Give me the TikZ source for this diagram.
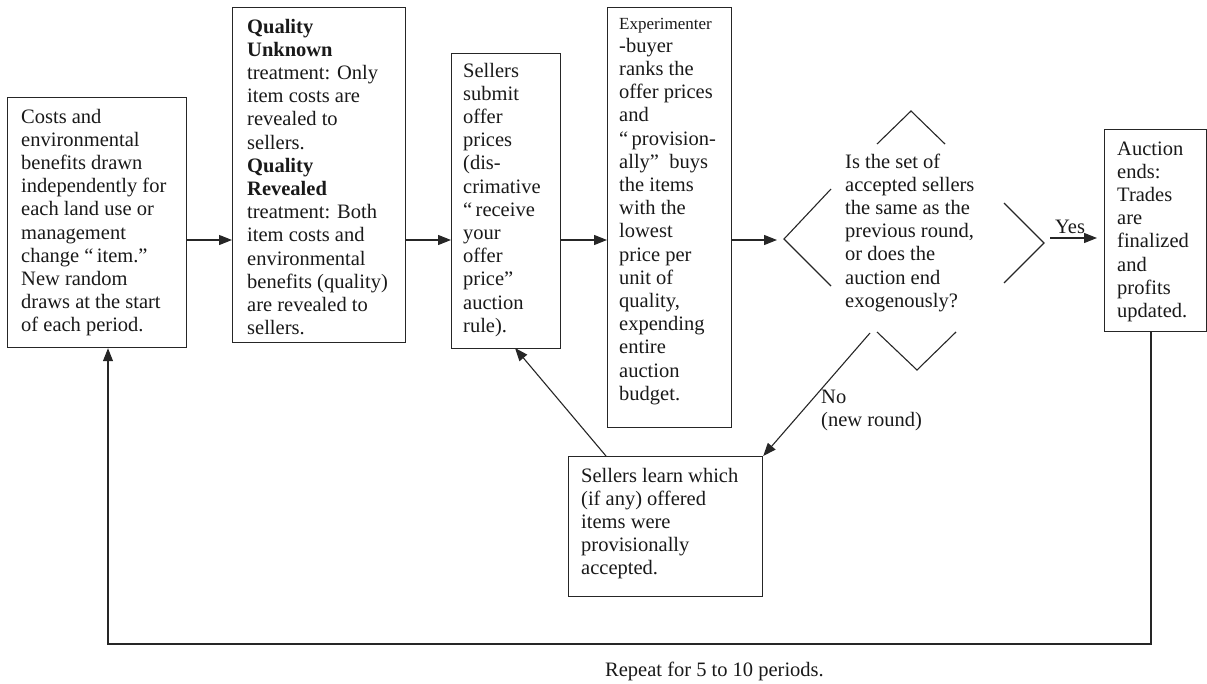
\documentclass[tikz,border=0pt]{standalone}
\usepackage{fontspec}
\setmainfont{Liberation Serif}
\usetikzlibrary{arrows.meta}
\tikzset{
  box/.style={draw=black!85, line width=1.2pt, rectangle, inner sep=0pt, anchor=north west},
  txt/.style={anchor=base west, inner sep=0pt, text=black!90, font=\fontsize{20.5}{23.2}\selectfont},
  arr/.style={line width=1.1pt, draw=black!85, -{Triangle[length=13pt,width=10pt]}},
  ln/.style={line width=1.1pt, draw=black!85},
}
\newcommand{\tl}[1]{\begin{tabular}[t]{@{}l@{}}#1\end{tabular}}
\begin{document}
\begin{tikzpicture}[x=1pt,y=-1pt]
\useasboundingbox (0,0) rectangle (1207,683);
% boxes
\node[box, minimum width=179pt, minimum height=250pt] (b1) at (7,97) {};
\node[box, minimum width=173pt, minimum height=335pt] (b2) at (232,7) {};
\node[box, minimum width=109pt, minimum height=295pt] (b3) at (451,53) {};
\node[box, minimum width=124pt, minimum height=420pt] (b4) at (607,7) {};
\node[box, minimum width=102pt, minimum height=202pt] (b5) at (1104,129) {};
\node[box, minimum width=194pt, minimum height=140pt] (b6) at (568,456) {};
% texts
\node[txt] (t1) at (21,123) {\tl{Costs and\\environmental\\benefits drawn\\independently for\\each land use or\\management\\change “\,item.”\\New random\\draws at the start\\of each period.}};
\node[txt] (t2) at (247,33) {\tl{\textbf{Quality}\\\textbf{Unknown}\\treatment: Only\\item costs are\\revealed to\\sellers.\\\textbf{Quality}\\\textbf{Revealed}\\treatment: Both\\item costs and\\environmental\\benefits (quality)\\are revealed to\\sellers.}};
\node[txt] (t3) at (463,77) {\tl{Sellers\\submit\\offer\\prices\\(dis-\\crimative\\“\,receive\\your\\offer\\price”\\auction\\rule).}};
\node[txt] (t4) at (619,29) {\tl{{\fontsize{17}{20}\selectfont Experimenter}\\-buyer\\ranks the\\offer prices\\and\\“\,provision-\\ally”\ \ buys\\the items\\with the\\lowest\\price per\\unit of\\quality,\\expending\\entire\\auction\\budget.}};
\node[txt] (td) at (845,168) {\tl{Is the set of\\accepted sellers\\the same as the\\previous round,\\or does the\\auction end\\exogenously?}};
\node[txt] (t5) at (1117,155) {\tl{Auction\\ends:\\Trades\\are\\finalized\\and\\profits\\updated.}};
\node[txt] (t6) at (581,482) {\tl{Sellers learn which\\(if any) offered\\items were\\provisionally\\accepted.}};
\node[txt] (yes) at (1055,233) {Yes};
\node[txt] (no) at (821,403) {\tl{No\\(new round)}};
\node[txt] (rep) at (605,676) {Repeat for 5 to 10 periods.};
% diamond pieces
\coordinate (dT) at (911,111);
\coordinate (dL) at (784,239);
\coordinate (dR) at (1044,243);
\coordinate (dB) at (917,370);
\draw[ln] (877,144) -- (dT) -- (945,144);
\draw[ln] (831,189) -- (dL) -- (831,286);
\draw[ln] (1004,203) -- (dR) -- (1004,283);
\draw[ln] (877,332) -- (dB) -- (956,332);
% connectors
\coordinate (row) at (0,240);
\coordinate (dIn) at (777,240);
\draw[arr] (b1.east |- row) -- (b2.west |- row);
\draw[arr] (b2.east |- row) -- (b3.west |- row);
\draw[arr] (b3.east |- row) -- (b4.west |- row);
\draw[arr] (b4.east |- row) -- (dIn);
\coordinate (yesS) at (1050,238);
\coordinate (yesE) at (1097,238);
\draw[arr] (yesS) -- (yesE);
\coordinate (noS) at (870,333);
\draw[arr] (noS) -- (b6.north east);
\coordinate (lrnS) at (606,456);
\coordinate (subT) at (515,348);
\draw[arr] (lrnS) -- (subT);
\coordinate (loopR) at (1151,644);
\coordinate (loopL) at (108,644);
\draw[arr] (b5.south -| loopR) -- (loopR) -- (loopL) -- (b1.south -| loopL);
\end{tikzpicture}
\end{document}
